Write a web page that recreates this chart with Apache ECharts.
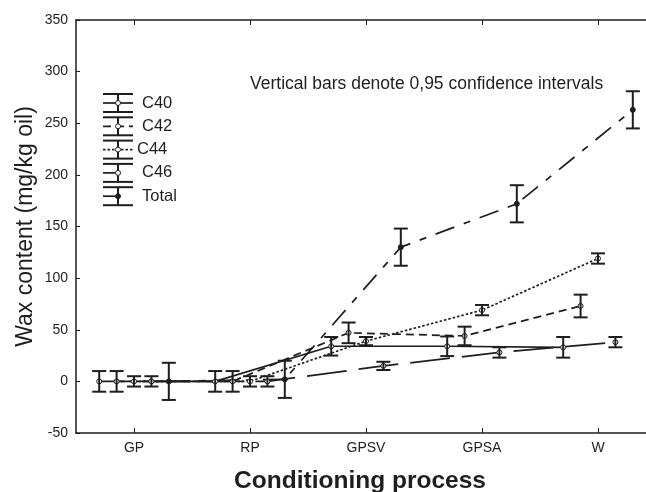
<!DOCTYPE html>
<html>
<head>
<meta charset="utf-8">
<script src="https://cdn.jsdelivr.net/npm/echarts@6/dist/echarts.min.js"></script>
<style>html,body{margin:0;padding:0;background:#fff;overflow:hidden;}#c{width:646px;height:492px;}</style>
</head>
<body>
<div id="c"></div>
<script>
// ---- data ----
const categories = ['GP', 'RP', 'GPSV', 'GPSA', 'W'];
const seriesNames = ['C40', 'C42', 'C44', 'C46', 'Total'];
const c40 = [0, 0, 34, 34, 33];
const c40Err = [10, 10, 9, 9.5, 10];
const c42 = [0, 0, 47, 44, 73];
const c42Err = [10, 10, 10, 9, 11];
const c44 = [0, 0, 39, 69, 119];
const c44Err = [5, 5, 4, 5, 5];
const c46 = [0, 0, 15, 28, 38];
const c46Err = [5, 5, 4, 5, 5];
const total = [0, 2, 130, 172, 263];
const totalErr = [18, 18, 18, 18, 18];
const yTicks = [-50, 0, 50, 100, 150, 200, 250, 300, 350];

// ---- styling ----
const ink = '#1e1e1e';
const values = [c40, c42, c44, c46, total];
const errs = [c40Err, c42Err, c44Err, c46Err, totalErr];
const offsets = [-0.3, -0.15, 0, 0.15, 0.3];
const dashes = ['solid', [8, 5], [2.5, 2], [40, 12], [20, 10, 7, 10]];
const font = 'Liberation Sans, Arial, sans-serif';

const series = [];
values.forEach((vals, i) => {
  series.push({
    name: seriesNames[i],
    type: 'line',
    xAxisIndex: 2,
    data: vals.map((v, k) => [k + offsets[i], v]),
    symbol: 'circle',
    symbolSize: 5,
    showSymbol: true,
    lineStyle: { color: ink, width: 1.7, type: dashes[i] },
    itemStyle: { color: i === 4 ? ink : '#fff', borderColor: ink, borderWidth: 1 },
    z: 3,
    animation: false
  });
});
values.forEach((vals, i) => {
  series.push({
    name: seriesNames[i] + ' err',
    type: 'custom',
    xAxisIndex: 2,
    data: vals.map((v, k) => [k + offsets[i], v - errs[i][k], v + errs[i][k]]),
    renderItem: function (params, api) {
      const x = api.value(0);
      const top = api.coord([x, api.value(2)]);
      const bot = api.coord([x, api.value(1)]);
      const hw = 7;
      const st = { stroke: ink, lineWidth: 2 };
      return {
        type: 'group',
        children: [
          { type: 'line', shape: { x1: top[0], y1: top[1], x2: bot[0], y2: bot[1] }, style: st },
          { type: 'line', shape: { x1: top[0] - hw, y1: top[1], x2: top[0] + hw, y2: top[1] }, style: st },
          { type: 'line', shape: { x1: bot[0] - hw, y1: bot[1], x2: bot[0] + hw, y2: bot[1] }, style: st }
        ]
      };
    },
    z: 4,
    animation: false
  });
});

// ---- legend drawn as graphic ----
const legendEls = [];
const legY0 = 103, legStep = 23.3, legX = 118;
seriesNames.forEach((name, i) => {
  const y = legY0 + i * legStep;
  const st = { stroke: ink, lineWidth: 2 };
  legendEls.push({ type: 'line', shape: { x1: legX, y1: y - 9, x2: legX, y2: y + 9 }, style: st, z: 10 });
  legendEls.push({ type: 'line', shape: { x1: legX - 15, y1: y - 9, x2: legX + 15, y2: y - 9 }, style: st, z: 10 });
  legendEls.push({ type: 'line', shape: { x1: legX - 15, y1: y + 9, x2: legX + 15, y2: y + 9 }, style: st, z: 10 });
  const ls = { stroke: ink, lineWidth: 1.7 };
  if (Array.isArray(dashes[i])) ls.lineDash = i >= 3 ? [12, 4] : dashes[i];
  legendEls.push({ type: 'line', shape: { x1: legX - 15, y1: y, x2: i >= 3 ? legX : legX + 15, y2: y }, style: ls, z: 10 });
  legendEls.push({ type: 'circle', shape: { cx: legX, cy: y, r: 2.5 }, style: { fill: i === 4 ? ink : '#fff', stroke: ink, lineWidth: 1 }, z: 11 });
  legendEls.push({ type: 'text', x: i === 2 ? 137 : 142, y: y, style: { text: name, font: '16.5px ' + font, fill: ink, verticalAlign: 'middle' }, z: 11 });
});
legendEls.push({ type: 'text', x: 250, y: 84, style: { text: 'Vertical bars denote 0,95 confidence intervals', font: '17.5px ' + font, fill: ink, verticalAlign: 'middle' } });

const chart = echarts.init(document.getElementById('c'), null, { renderer: 'canvas' });
chart.setOption({
  backgroundColor: '#fff',
  animation: false,
  textStyle: { fontFamily: font },
  grid: { left: 76, top: 20, width: 580, height: 413, outerBoundsMode: 'none', containLabel: false, show: false },
  xAxis: [
    {
      type: 'category', data: categories, position: 'bottom', boundaryGap: true,
      axisLine: { show: true, onZero: false, lineStyle: { color: ink, width: 1.5 } },
      axisTick: { show: true, inside: true, alignWithLabel: true, length: 5, lineStyle: { color: ink } },
      axisLabel: { color: ink, fontSize: 14, margin: 8 },
      splitLine: { show: false },
      name: 'Conditioning process', nameLocation: 'middle', nameGap: 36, nameMoveOverlap: false,
      nameTextStyle: { fontSize: 24.5, fontWeight: 'bold', color: ink, padding: [0, 12, 0, 0] }
    },
    {
      type: 'category', data: categories, position: 'top', boundaryGap: true,
      axisLine: { show: true, onZero: false, lineStyle: { color: ink, width: 1.5 } },
      axisTick: { show: true, inside: true, alignWithLabel: true, length: 5, lineStyle: { color: ink } },
      axisLabel: { show: false }, splitLine: { show: false }
    },
    { type: 'value', min: -0.5, max: 4.5, show: false, axisLine: { show: false, onZero: false }, splitLine: { show: false } }
  ],
  yAxis: [{
    type: 'value', min: yTicks[0], max: yTicks[yTicks.length - 1], interval: 50,
    axisLine: { show: true, onZero: false, lineStyle: { color: ink, width: 1.5 } },
    axisTick: { show: true, inside: true, length: 4, lineStyle: { color: ink } },
    axisLabel: { color: ink, fontSize: 14, margin: 8 },
    splitLine: { show: false },
    name: 'Wax content (mg/kg oil)', nameLocation: 'middle', nameGap: 39, nameMoveOverlap: false,
    nameTextStyle: { fontSize: 23, color: ink }
  }],
  series: series,
  graphic: legendEls
});
</script>
</body>
</html>
